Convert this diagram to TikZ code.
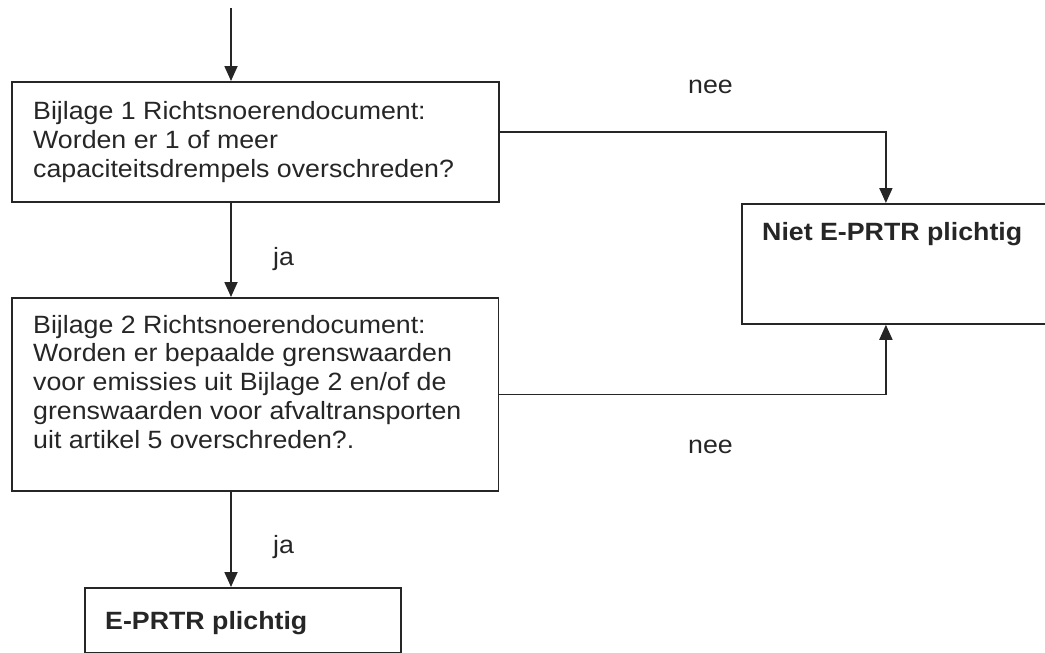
\documentclass[tikz,border=0pt]{standalone}
\usepackage{fontspec}
\setmainfont{Liberation Sans}[FakeStretch=1.07]
\usetikzlibrary{arrows.meta}
\definecolor{inkt}{gray}{0.15}
\tikzset{
  vak/.style={draw=inkt, line width=1.8pt, rectangle, anchor=north west, inner sep=0pt},
  tekst/.style={anchor=base west, align=left, inner sep=0pt, text=inkt,
    font=\fontsize{25}{28.7}\selectfont},
  vet/.style={tekst, font=\fontsize{25}{28.7}\selectfont\bfseries},
  pijl/.style={draw=inkt, line width=1.8pt, -{Triangle[width=13pt,length=15pt]}}
}
\begin{document}
\begin{tikzpicture}[x=1pt,y=-1pt]
  \useasboundingbox (0,0) rectangle (1045,653);
  %\draw[color=gray, style=dotted] (0,0) grid[step=50pt] (1045,653);
  \coordinate (start) at (231,8);
  % vragen (base = laatste regel)
  \node[vak, minimum width=487pt, minimum height=120pt] (vraag1) at (11,81) {};
  \node[tekst] (vraag1tekst) at (33,177)
    {Bijlage 1 Richtsnoerendocument:\\Worden er 1 of meer\\capaciteitsdrempels overschreden?};
  \node[vak, minimum width=486.5pt, minimum height=193pt] (vraag2) at (11,297) {};
  \node[tekst] (vraag2tekst) at (33,448)
    {Bijlage 2 Richtsnoerendocument:\\Worden er bepaalde grenswaarden\\voor emissies uit Bijlage 2 en/of de\\grenswaarden voor afvaltransporten\\uit artikel 5 overschreden?.};
  % uitkomsten
  \node[vak, minimum width=320pt, minimum height=120pt] (niet) at (741,203) {};
  \node[vet] (niettekst) at (762,240) {Niet E-PRTR plichtig};
  \node[vak, minimum width=316pt, minimum height=64.5pt] (wel) at (84,587) {};
  \node[vet] (weltekst) at (105,629) {E-PRTR plichtig};
  % labels
  \node[tekst] (ja1) at (273,265) {ja};
  \node[tekst] (ja2) at (273,553) {ja};
  \node[tekst] (nee1) at (688,93) {nee};
  \node[tekst] (nee2) at (688,453) {nee};
  % pijlen
  \draw[pijl] (start) -- (start |- vraag1.north);
  \draw[pijl] (vraag1.south -| start) -- (vraag2.north -| start);
  \draw[pijl] (vraag2.south -| start) -- (wel.north -| start);
  \draw[pijl] ([yshift=10pt]vraag1.east) -| ([xshift=-16pt]niet.north);
  \draw[pijl] (vraag2.east) -| ([xshift=-16pt]niet.south);
\end{tikzpicture}
\end{document}
